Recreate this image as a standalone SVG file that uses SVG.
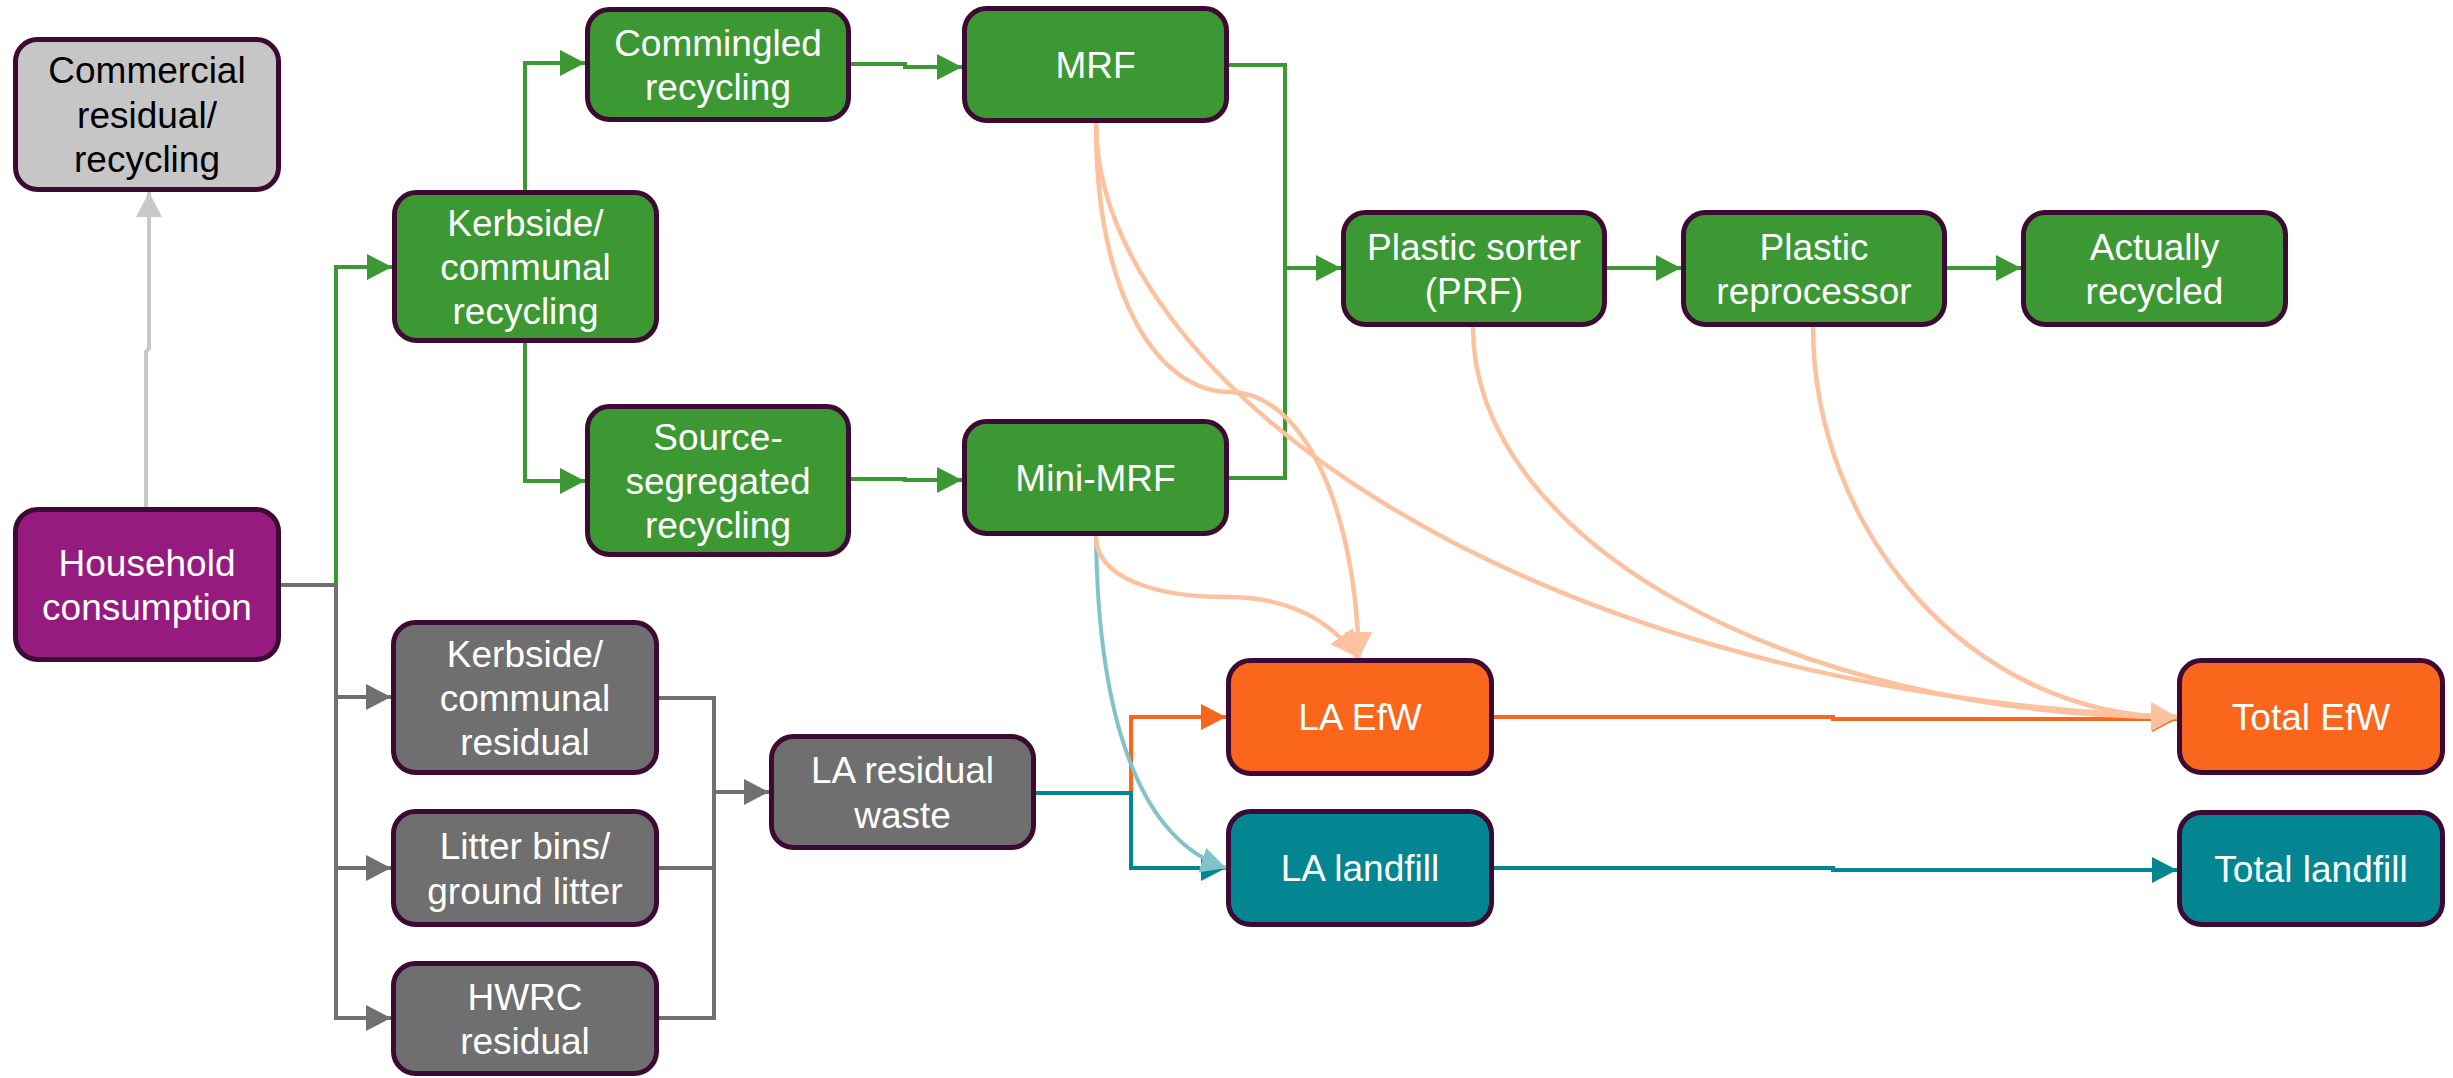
<svg xmlns="http://www.w3.org/2000/svg" width="2453" height="1078" viewBox="0 0 2453 1078">
<style>
.node rect{stroke:#3c0a32;stroke-width:5}
.node text{font-family:"Liberation Sans",Arial,sans-serif;font-size:37px;fill:#fff;text-anchor:middle}
.g rect{fill:#3b9833}
.gr rect{fill:#6f6f6f}
.or rect{fill:#fa661b}
.tl rect{fill:#038691}
.c{fill:none;stroke-width:4}
.cg{stroke:#3b9833}
.cgr{stroke:#707070}
.clg{stroke:#c8c8c8}
.cor{stroke:#fa661b}
.ctl{stroke:#038691}
.cpe{stroke:#fcc29f;stroke-width:4.5}
.clt{stroke:#80c4ca}
</style>
<defs>
<marker id="mg" markerUnits="userSpaceOnUse" markerWidth="26" markerHeight="26" viewBox="0 0 26 26" refX="25" refY="13" orient="auto"><path d="M0,0 L25,13 L0,26 z" fill="#3b9833"/></marker>
<marker id="mgr" markerUnits="userSpaceOnUse" markerWidth="26" markerHeight="26" viewBox="0 0 26 26" refX="25" refY="13" orient="auto"><path d="M0,0 L25,13 L0,26 z" fill="#707070"/></marker>
<marker id="mlg" markerUnits="userSpaceOnUse" markerWidth="26" markerHeight="26" viewBox="0 0 26 26" refX="25" refY="13" orient="auto"><path d="M0,0 L25,13 L0,26 z" fill="#c8c8c8"/></marker>
<marker id="mor" markerUnits="userSpaceOnUse" markerWidth="26" markerHeight="26" viewBox="0 0 26 26" refX="25" refY="13" orient="auto"><path d="M0,0 L25,13 L0,26 z" fill="#fa661b"/></marker>
<marker id="mtl" markerUnits="userSpaceOnUse" markerWidth="26" markerHeight="26" viewBox="0 0 26 26" refX="25" refY="13" orient="auto"><path d="M0,0 L25,13 L0,26 z" fill="#038691"/></marker>
<marker id="mpe" markerUnits="userSpaceOnUse" markerWidth="28" markerHeight="28" viewBox="0 0 28 28" refX="26" refY="14" orient="auto"><path d="M0,0 L26,14 L0,28 z" fill="#fcc29f"/></marker>
<marker id="mlt" markerUnits="userSpaceOnUse" markerWidth="26" markerHeight="26" viewBox="0 0 26 26" refX="25" refY="13" orient="auto"><path d="M0,0 L25,13 L0,26 z" fill="#80c4ca"/></marker>
</defs>
<rect width="2453" height="1078" fill="#fff"/>
<g id="connectors">
<path class="c clg" d="M146,509 V352 L149,348 V192" marker-end="url(#mlg)"/>
<path class="c cg" d="M336,585 V267 H392" marker-end="url(#mg)"/>
<path class="c cgr" d="M281,585 H336 V697 H391" marker-end="url(#mgr)"/>
<path class="c cgr" d="M336,697 V868 H391" marker-end="url(#mgr)"/>
<path class="c cgr" d="M336,868 V1018 H391" marker-end="url(#mgr)"/>
<path class="c cg" d="M525,190 V63 H585" marker-end="url(#mg)"/>
<path class="c cg" d="M525,343 V481 H585" marker-end="url(#mg)"/>
<path class="c cg" d="M850,64 H905 V67 H962" marker-end="url(#mg)"/>
<path class="c cg" d="M850,479 H905 V480 H962" marker-end="url(#mg)"/>
<path class="c cg" d="M1229,65 H1285 V268 H1341" marker-end="url(#mg)"/>
<path class="c cg" d="M1229,478 H1285 V268"/>
<path class="c cg" d="M1607,268 H1681" marker-end="url(#mg)"/>
<path class="c cg" d="M1947,268 H2021" marker-end="url(#mg)"/>
<path class="c cgr" d="M659,698 H714 V792 H769" marker-end="url(#mgr)"/>
<path class="c cgr" d="M659,868 H714"/>
<path class="c cgr" d="M659,1018 H714 V792"/>
<path class="c cor" d="M1131,793 V717 H1226" marker-end="url(#mor)"/>
<path class="c ctl" d="M1036,793 H1131 V868 H1226" marker-end="url(#mtl)"/>
<path class="c cor" d="M1494,717 H1833 V719 H2177" marker-end="url(#mor)"/>
<path class="c ctl" d="M1494,868 H1833 V870 H2177" marker-end="url(#mtl)"/>
<path class="c clt" d="M1096,536 C1098,720 1140,840 1226,868" marker-end="url(#mlt)"/>
<path class="c cpe" d="M1096,123 C1096,300 1160,392 1230,392 C1300,392 1355,500 1359,658" marker-end="url(#mpe)"/>
<path class="c cpe" d="M1096,536 C1096,580 1160,597 1227,597 C1290,597 1330,620 1357,657" marker-end="url(#mpe)"/>
<path class="c cpe" d="M1096,123 C1096,370 1500,690 2177,717" marker-end="url(#mpe)"/>
<path class="c cpe" d="M1473,327 C1473,540 1790,717 2177,717" marker-end="url(#mpe)"/>
<path class="c cpe" d="M1813,327 C1813,530 1970,717 2177,717" marker-end="url(#mpe)"/>
</g>
<g id="n-commercial" class="node"><rect x="15.5" y="39.5" width="263" height="150" rx="22" fill="#c6c6c6"/><text x="147" style="fill:#000"><tspan x="147" y="83">Commercial</tspan><tspan x="147" y="128">residual/</tspan><tspan x="147" y="172">recycling</tspan></text></g>
<g id="n-household" class="node"><rect x="15.5" y="509.5" width="263" height="150" rx="22" fill="#961b7e"/><text><tspan x="147" y="575.5">Household</tspan><tspan x="147" y="620">consumption</tspan></text></g>
<g id="n-kerb-rec" class="node g"><rect x="394.5" y="192.5" width="262" height="148" rx="22"/><text><tspan x="525.5" y="235.5">Kerbside/</tspan><tspan x="525.5" y="280">communal</tspan><tspan x="525.5" y="324">recycling</tspan></text></g>
<g id="n-commingled" class="node g"><rect x="587.5" y="9.5" width="261" height="110" rx="22"/><text><tspan x="718" y="55.5">Commingled</tspan><tspan x="718" y="100">recycling</tspan></text></g>
<g id="n-source" class="node g"><rect x="587.5" y="406.5" width="261" height="148" rx="22"/><text><tspan x="718" y="449.5">Source-</tspan><tspan x="718" y="494">segregated</tspan><tspan x="718" y="538">recycling</tspan></text></g>
<g id="n-mrf" class="node g"><rect x="964.5" y="8.5" width="262" height="112" rx="22"/><text x="1095.5" y="78">MRF</text></g>
<g id="n-minimrf" class="node g"><rect x="964.5" y="421.5" width="262" height="112" rx="22"/><text x="1095.5" y="491">Mini-MRF</text></g>
<g id="n-prf" class="node g"><rect x="1343.5" y="212.5" width="261" height="112" rx="22"/><text><tspan x="1474" y="259.5">Plastic sorter</tspan><tspan x="1474" y="304">(PRF)</tspan></text></g>
<g id="n-reproc" class="node g"><rect x="1683.5" y="212.5" width="261" height="112" rx="22"/><text><tspan x="1814" y="259.5">Plastic</tspan><tspan x="1814" y="304">reprocessor</tspan></text></g>
<g id="n-recycled" class="node g"><rect x="2023.5" y="212.5" width="262" height="112" rx="22"/><text><tspan x="2154.5" y="259.5">Actually</tspan><tspan x="2154.5" y="304">recycled</tspan></text></g>
<g id="n-kerb-res" class="node gr"><rect x="393.5" y="622.5" width="263" height="150" rx="22"/><text><tspan x="525" y="666.5">Kerbside/</tspan><tspan x="525" y="711">communal</tspan><tspan x="525" y="755">residual</tspan></text></g>
<g id="n-litter" class="node gr"><rect x="393.5" y="811.5" width="263" height="113" rx="22"/><text><tspan x="525" y="859">Litter bins/</tspan><tspan x="525" y="903.5">ground litter</tspan></text></g>
<g id="n-hwrc" class="node gr"><rect x="393.5" y="963.5" width="263" height="110" rx="22"/><text><tspan x="525" y="1009.5">HWRC</tspan><tspan x="525" y="1054">residual</tspan></text></g>
<g id="n-la-res" class="node gr"><rect x="771.5" y="736.5" width="262" height="111" rx="22"/><text><tspan x="902.5" y="783">LA residual</tspan><tspan x="902.5" y="827.5">waste</tspan></text></g>
<g id="n-la-efw" class="node or"><rect x="1228.5" y="660.5" width="263" height="113" rx="22"/><text x="1360" y="730">LA EfW</text></g>
<g id="n-la-landfill" class="node tl"><rect x="1228.5" y="811.5" width="263" height="113" rx="22"/><text x="1360" y="881">LA landfill</text></g>
<g id="n-total-efw" class="node or"><rect x="2179.5" y="660.5" width="263" height="112" rx="22"/><text x="2311" y="730">Total EfW</text></g>
<g id="n-total-landfill" class="node tl"><rect x="2179.5" y="812.5" width="263" height="112" rx="22"/><text x="2311" y="882">Total landfill</text></g>
</svg>
